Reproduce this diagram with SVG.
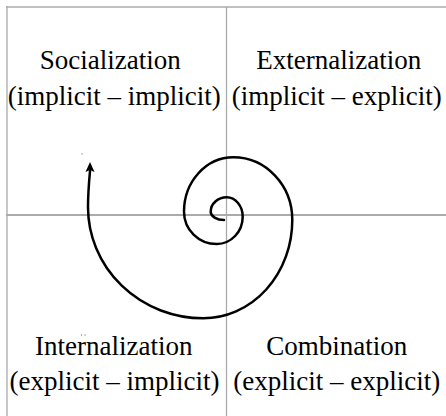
<svg xmlns="http://www.w3.org/2000/svg" width="446" height="416" viewBox="0 0 446 416">
<style>
.grid{stroke:#ababab;fill:none}
.lbl{font-family:"Liberation Serif","Times New Roman",serif;font-size:27px;fill:#000;text-anchor:middle}
.sp{fill:none;stroke:#000;stroke-width:2.5;stroke-linecap:round}
</style>
<rect width="446" height="416" fill="#fff"/>
<g id="grid" class="grid">
<line x1="6" y1="7" x2="446" y2="7" stroke-width="1.3"/>
<line x1="7" y1="6" x2="7" y2="416" stroke-width="1.3"/>
<line x1="226.5" y1="7" x2="226.5" y2="416" stroke-width="1.3"/>
<line x1="6" y1="215" x2="446" y2="215" stroke-width="2"/>
</g>
<g id="socialization">
<text class="lbl" x="110.3" y="69">Socialization</text>
<text class="lbl" x="114.3" y="105">(implicit – implicit)</text>
</g>
<g id="externalization">
<text class="lbl" x="338.7" y="69">Externalization</text>
<text class="lbl" x="336.7" y="105">(implicit – explicit)</text>
</g>
<g id="internalization">
<text class="lbl" x="113.8" y="355">Internalization</text>
<text class="lbl" x="114.5" y="390">(explicit – implicit)</text>
</g>
<g id="combination">
<text class="lbl" x="336.7" y="355">Combination</text>
<text class="lbl" x="336.7" y="390">(explicit – explicit)</text>
</g>
<g id="connectors">
<path class="sp" d="M224,220 A13.3,8.3 0 0 1 210.7,211.7 A16,14.4 0 0 1 226.7,197.3 A16,19.4 0 0 1 242.7,216.7 A26,27.3 0 0 1 216.7,244 A32.7,32.3 0 0 1 184,211.7 A49.3,54.4 0 0 1 233.3,157.3 A59,62.7 0 0 1 292.3,220 A89,98.3 0 0 1 203.3,318.3 A115.3,111.3 0 0 1 88,207 C88,195 89,182 90,171"/>
<polygon points="90,162 94.5,172 90,170 85.5,172" fill="#000"/>
</g>
<g id="specks" fill="#555">
<rect x="81.5" y="153.5" width="1" height="1"/>
<rect x="81" y="334.5" width="1" height="1"/>
<rect x="84.5" y="334.5" width="1" height="1"/>
</g>
</svg>
